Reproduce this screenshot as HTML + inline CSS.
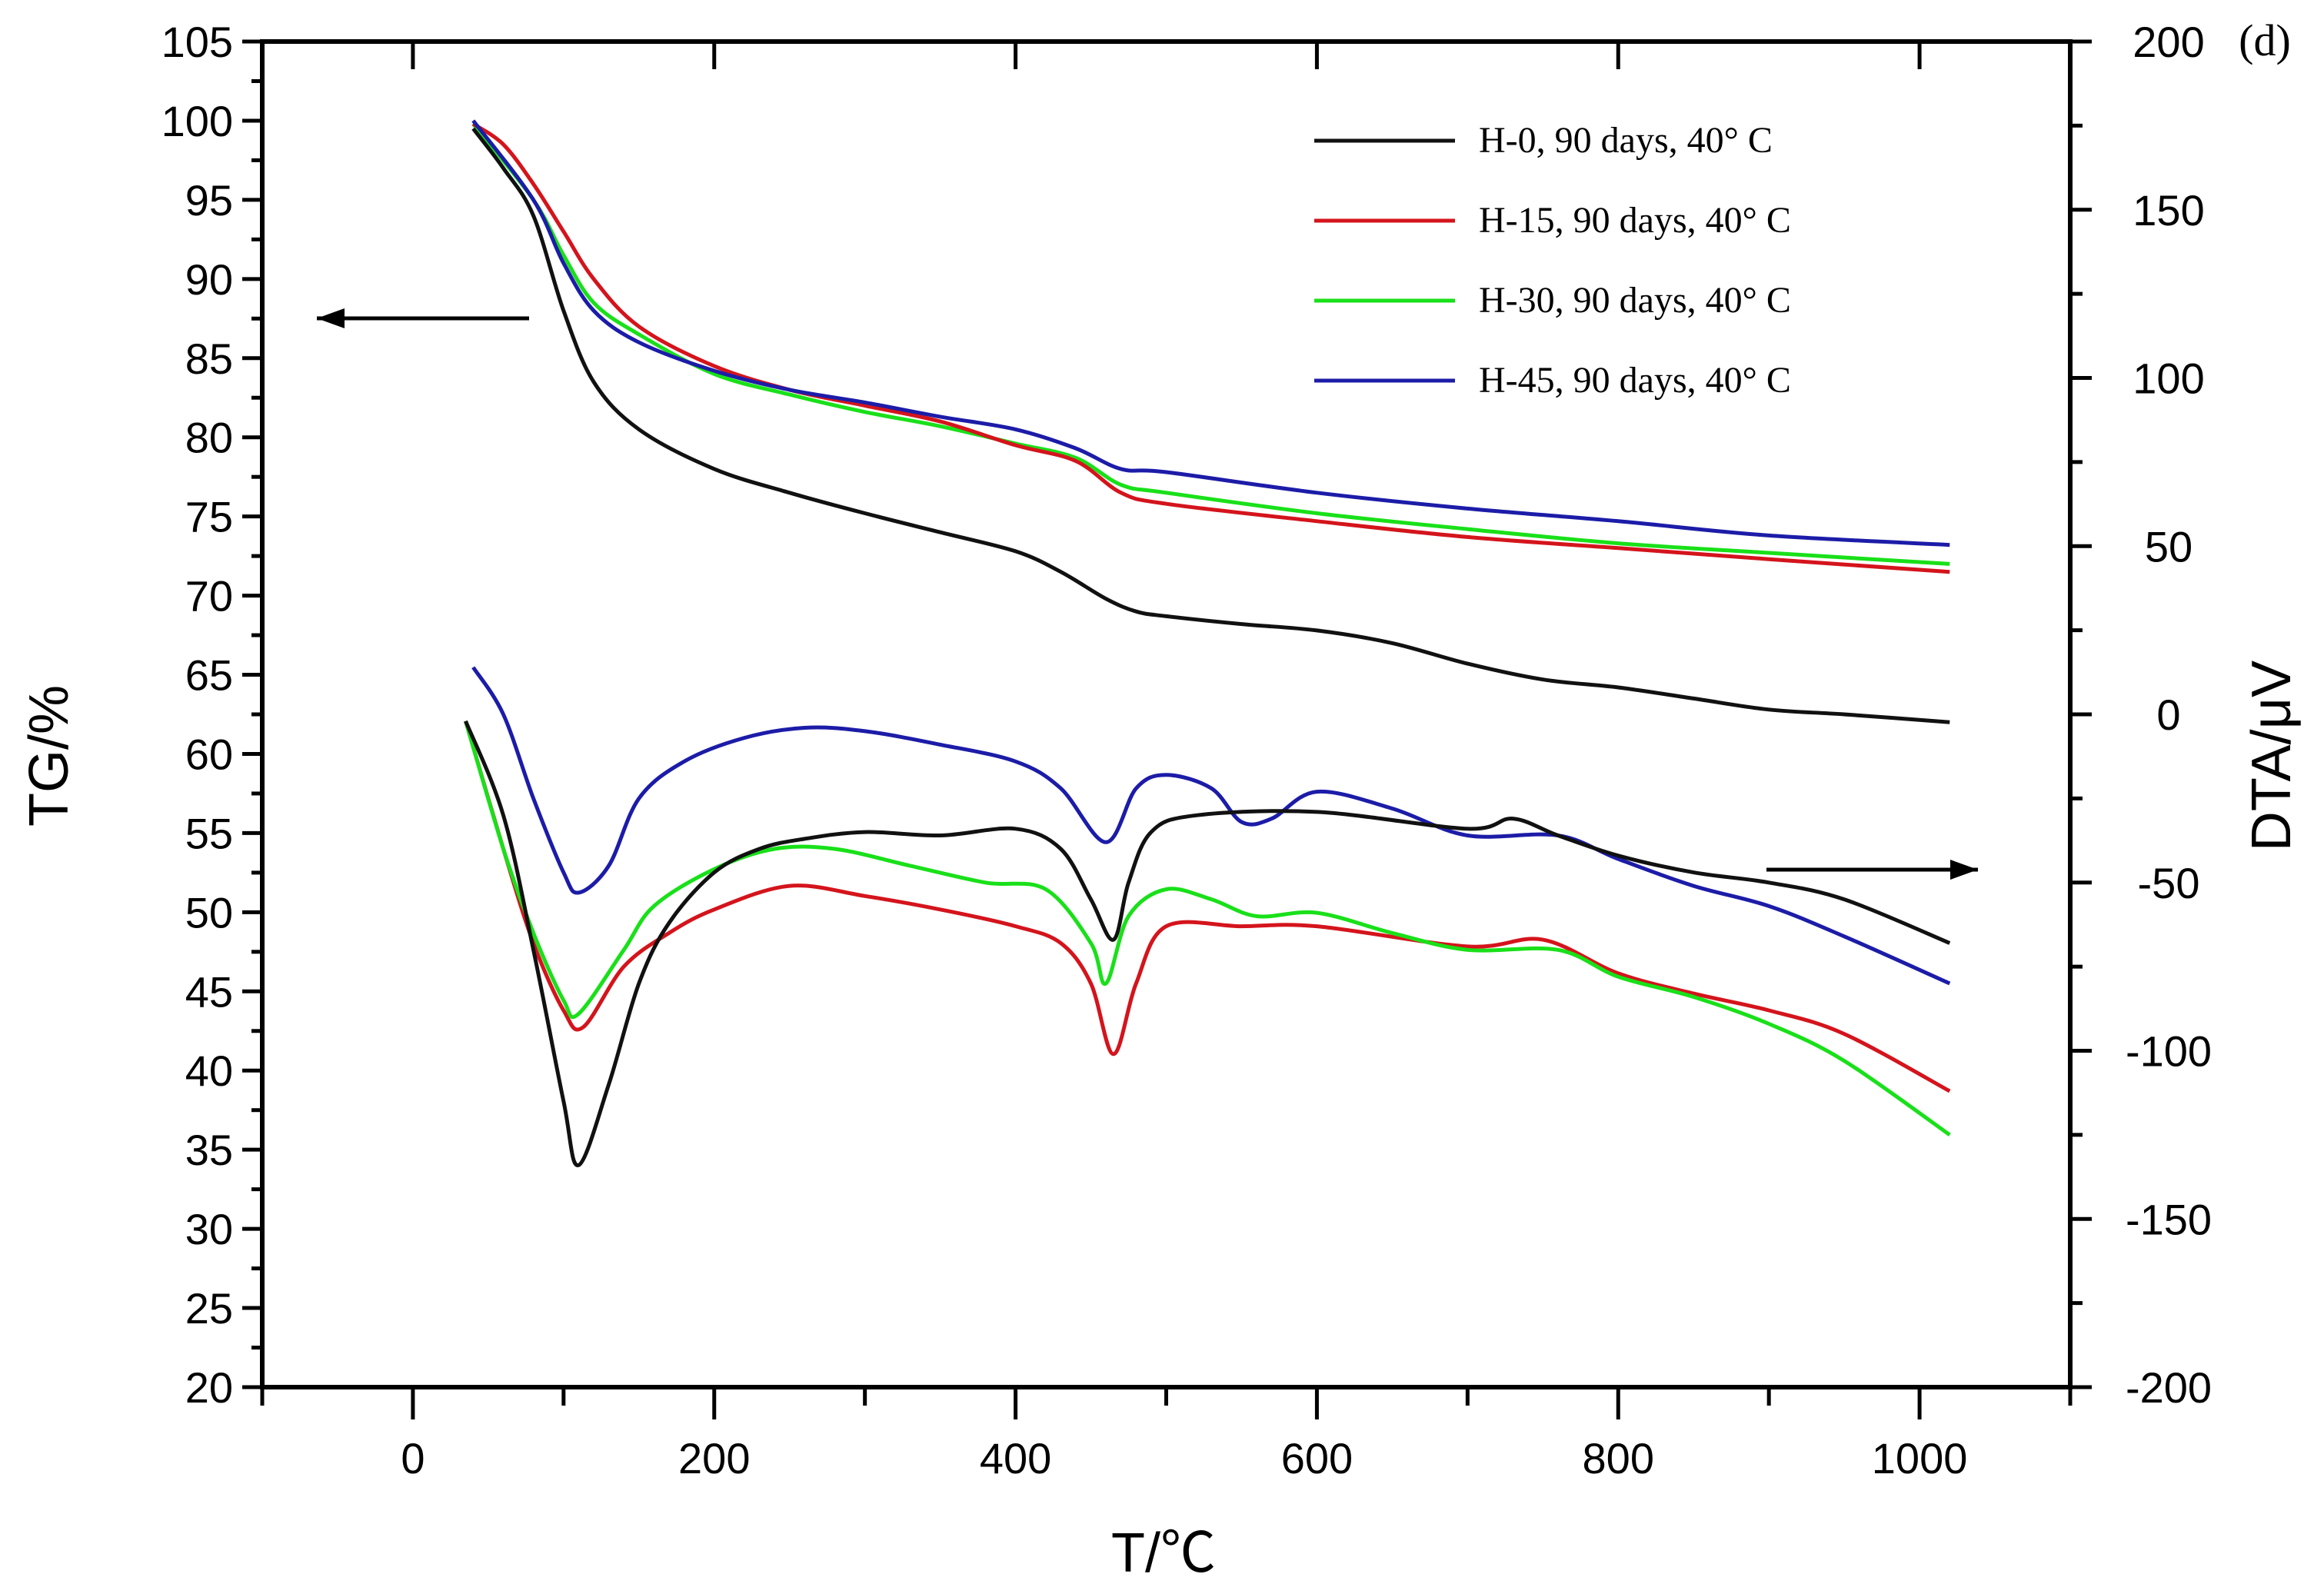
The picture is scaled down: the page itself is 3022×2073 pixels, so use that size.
<!DOCTYPE html>
<html><head><meta charset="utf-8"><style>
html,body{margin:0;padding:0;background:#fff;}
svg{display:block;}
</style></head><body>
<svg id="chart" width="3022" height="2073" viewBox="0 0 3022 2073" xmlns="http://www.w3.org/2000/svg">
<rect width="3022" height="2073" fill="#fff"/>
<g id="marks"></g>
<g id="axes"></g>
</svg>
<script>
const tempTicks = [0, 200, 400, 600, 800, 1000];
const tgTicks = [20,25,30,35,40,45,50,55,60,65,70,75,80,85,90,95,100,105];
const dtaTicks = [-200,-150,-100,-50,0,50,100,150,200];

const tgBlackT = [40,60,80,100,120,150,200,250,300,350,400,430,460,480,500,550,600,650,700,750,800,850,900,950,1020];
const tgBlackV = [99.5,97,94,88,83.5,80.5,78,76.5,75.2,74,72.8,71.5,69.8,69,68.7,68.2,67.8,67,65.7,64.7,64.2,63.5,62.8,62.5,62];
const tgRedT = [40,60,80,100,120,150,200,250,300,350,400,440,470,500,600,700,800,900,1020];
const tgRedV = [99.8,98.5,96,93,90,87,84.5,83,82,81,79.5,78.5,76.5,75.8,74.7,73.7,73,72.3,71.5];
const tgGreenT = [40,80,100,120,150,200,250,300,350,400,440,470,500,600,700,800,900,1020];
const tgGreenV = [99.8,95,91.5,88.5,86.5,84,82.7,81.6,80.7,79.6,78.7,77,76.5,75.2,74.2,73.3,72.7,72];
const tgBlueT = [40,80,100,120,150,200,250,300,350,400,440,470,500,600,700,800,900,1020];
const tgBlueV = [100,95,91,88,86,84.2,83,82.2,81.3,80.5,79.3,78,77.8,76.5,75.5,74.7,73.8,73.2];

const dtaBlackT = [35,60,80,100,110,130,150,170,200,230,260,300,350,400,430,450,465,475,490,520,600,700,730,760,800,850,900,950,1020];
const dtaBlackV = [-2,-30,-70,-115,-134,-110,-80,-62,-47,-40,-37,-35,-36,-34,-40,-55,-67,-50,-35,-30,-29,-34,-31,-36,-42,-47,-50,-55,-68];
const dtaBlueT = [40,60,80,100,110,130,150,180,220,260,300,350,400,430,460,480,500,530,550,570,600,650,700,760,800,850,900,950,1020];
const dtaBlueV = [14,0,-25,-47,-53,-45,-25,-14,-7,-4,-5,-9,-14,-22,-38,-22,-18,-22,-32,-31,-23,-28,-36,-36,-43,-51,-57,-66,-80];
const dtaGreenT = [35,60,80,100,110,140,160,200,240,280,330,380,420,450,460,475,500,530,560,600,650,700,760,800,850,900,950,1020];
const dtaGreenV = [-2,-40,-65,-85,-89,-70,-57,-46,-40,-40,-45,-50,-52,-68,-80,-60,-52,-55,-60,-59,-65,-70,-70,-78,-84,-92,-103,-125];
const dtaRedT = [35,60,80,100,113,140,170,200,250,300,350,400,430,450,465,480,500,550,600,700,750,800,850,900,950,1020];
const dtaRedV = [-2,-40,-68,-88,-93,-75,-65,-58,-51,-54,-58,-63,-68,-80,-101,-80,-63,-63,-63,-69,-67,-77,-83,-88,-95,-112];

const legendLabels = ["H-0, 90 days, 40° C","H-15, 90 days, 40° C","H-30, 90 days, 40° C","H-45, 90 days, 40° C"];
const legendColors = ["#111","#d4141c","#19e019","#1c1ca8"];

const NS = "http://www.w3.org/2000/svg";
const L=341, R=2692, T=54, B=1804;
const xS = t => L + (t + 100) / 1200 * (R - L);
const yTG = v => T + (105 - v) / 85 * (B - T);
const yDTA = v => T + (200 - v) / 400 * (B - T);

function mk(tag, attrs, parent){const e=document.createElementNS(NS,tag);for(const k in attrs)e.setAttribute(k,attrs[k]);parent.appendChild(e);return e;}
const marks=document.getElementById('marks'), axes=document.getElementById('axes');

function smoothPath(pts){
  let d='M'+pts[0][0].toFixed(1)+' '+pts[0][1].toFixed(1);
  for(let i=0;i<pts.length-1;i++){
    const p0=pts[Math.max(0,i-1)],p1=pts[i],p2=pts[i+1],p3=pts[Math.min(pts.length-1,i+2)];
    const c1=[p1[0]+(p2[0]-p0[0])/6,p1[1]+(p2[1]-p0[1])/6];
    const c2=[p2[0]-(p3[0]-p1[0])/6,p2[1]-(p3[1]-p1[1])/6];
    d+=` C${c1[0].toFixed(1)} ${c1[1].toFixed(1)} ${c2[0].toFixed(1)} ${c2[1].toFixed(1)} ${p2[0].toFixed(1)} ${p2[1].toFixed(1)}`;
  }
  return d;
}
function series(ts, vs, yf, color, name){
  const pts = ts.map((t,i)=>[xS(t), yf(vs[i])]);
  const p = mk('path',{d:smoothPath(pts),fill:'none',stroke:color,'stroke-width':5,'stroke-linejoin':'round'},marks);
  
  
}
series(tgGreenT,tgGreenV,yTG,legendColors[2],'tg-line-h30');
series(tgRedT,tgRedV,yTG,legendColors[1],'tg-line-h15');
series(tgBlueT,tgBlueV,yTG,legendColors[3],'tg-line-h45');
series(tgBlackT,tgBlackV,yTG,legendColors[0],'tg-line-h0');
series(dtaRedT,dtaRedV,yDTA,legendColors[1],'dta-line-h15');
series(dtaGreenT,dtaGreenV,yDTA,legendColors[2],'dta-line-h30');
series(dtaBlueT,dtaBlueV,yDTA,legendColors[3],'dta-line-h45');
series(dtaBlackT,dtaBlackV,yDTA,legendColors[0],'dta-line-h0');

const frame = mk('rect',{x:L,y:T,width:R-L,height:B-T,fill:'none',stroke:'#000','stroke-width':6},axes);



function txt(s,x,y,size,anchor,name,family,extra){
  const e=mk('text',Object.assign({x:x,y:y,'font-size':size,'text-anchor':anchor,'font-family':family||'"Liberation Sans", "DejaVu Sans", sans-serif',fill:'#000'},extra||{}),axes);
  e.textContent=s;
  
  
  return e;
}
for(let t=-100;t<=1100;t+=100){
  const major = t%200===0;
  mk('line',{x1:xS(t),x2:xS(t),y1:B,y2:B+(major?42:24),stroke:'#000','stroke-width':5},axes);
  mk('line',{x1:xS(t),x2:xS(t),y1:T,y2:T+(major?36:0),stroke:'#000','stroke-width':5},axes);
}
tempTicks.forEach(t=>txt(String(t),xS(t),1916,56,'middle','x-tick-label'));
for(let v=20;v<=105;v+=2.5){
  const major = v%5===0;
  mk('line',{x1:L-(major?26:14),x2:L,y1:yTG(v),y2:yTG(v),stroke:'#000','stroke-width':5},axes);
}
tgTicks.forEach(v=>txt(String(v),L-38,yTG(v)+20,56,'end','left-y-tick-label'));
for(let v=-200;v<=200;v+=25){
  const major = v%50===0;
  mk('line',{x1:R,x2:R+(major?28:16),y1:yDTA(v),y2:yDTA(v),stroke:'#000','stroke-width':5},axes);
}
dtaTicks.forEach(v=>txt(String(v),2820,yDTA(v)+20,56,'middle','right-y-tick-label'));

txt('T/℃',1513,2044,72,'middle','x-axis-title','"Liberation Sans", "Noto Sans CJK SC", sans-serif');
txt('TG/%',88,983,72,'middle','left-y-axis-title',null,{transform:'rotate(-90 88 983)'});
txt('DTA/μV',2978,983,72,'middle','right-y-axis-title',null,{transform:'rotate(-90 2978 983)'});
txt('(d)',2945,72,58,'middle','panel-label','"Liberation Serif", serif');

legendLabels.forEach((lab,i)=>{
  const y = 183 + i*104;
  const ln = mk('line',{x1:1709,x2:1892,y1:y,y2:y,stroke:legendColors[i],'stroke-width':5},axes);
  
  
  txt(lab,1923,y+15,48,'start','legend-entry','"Liberation Serif", serif');
});

function arrow(x1,x2,y,name){
  const g=mk('g',{},axes);
  
  
  mk('line',{x1:x1,x2:x2,y1:y,y2:y,stroke:'#000','stroke-width':5},g);
  const dir = x2>x1?1:-1;
  mk('polygon',{points:`${x2},${y} ${x2-dir*36},${y-13} ${x2-dir*36},${y+13}`,fill:'#000'},g);
}
arrow(688,412,414,'tg-axis-arrow');
arrow(2297,2572,1131,'dta-axis-arrow');
</script>
</body></html>
